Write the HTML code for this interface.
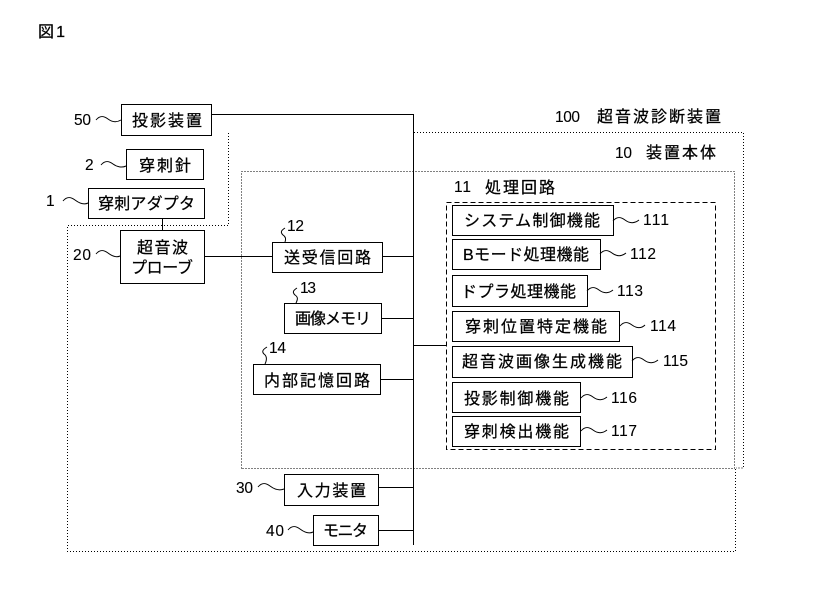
<!DOCTYPE html>
<html lang="ja">
<head>
<meta charset="utf-8">
<style>
html,body{margin:0;padding:0;background:#fff}
svg{display:block}
text{font-family:"Liberation Sans","Noto Sans CJK JP",sans-serif;fill:#000;font-size:16px;stroke:#000;stroke-width:.25px}
.n{font-size:15.5px;stroke-width:.1px}
.b{fill:#fff;stroke:#000;stroke-width:1;shape-rendering:crispEdges}
.l{stroke:#000;stroke-width:1;fill:none;shape-rendering:crispEdges}
.d{stroke:#000;stroke-width:1;fill:none;stroke-dasharray:1 2;shape-rendering:crispEdges}
.m{stroke:#000;stroke-width:1;fill:none;stroke-dasharray:5 3;shape-rendering:crispEdges}
.w{stroke:#000;stroke-width:1;fill:none}
</style>
</head>
<body>
<svg width="815" height="614" viewBox="0 0 815 614" xmlns="http://www.w3.org/2000/svg">
<rect width="815" height="614" fill="#fff"/>

<!-- dotted boundaries -->
<path class="d" d="M228.500 133V225.500H67.500V551.500H735.500V468M414 132.500H743.500V468H736"/>
<path class="d" d="M241.500 468.500V171.500H734.500V468.500H241.500"/>
<path class="m" d="M446.500 202.500H715.500V449.500H446.500Z"/>

<!-- connectors -->
<path class="l" d="M413.500 114V545M211 114.500H413M162.500 218V230M204 256.500H272M382 256.500H413M381 318.500H413M380 379.500H413M413 345.500H446M378 487.500H413M378 530.500H413"/>

<!-- boxes -->
<rect class="b" x="121.500" y="104.500" width="90" height="31"/>
<rect class="b" x="126.500" y="149.500" width="77" height="30"/>
<rect class="b" x="88.500" y="188.500" width="116" height="30"/>
<rect class="b" x="120.500" y="230.500" width="84" height="53"/>
<rect class="b" x="272.500" y="242.500" width="110" height="30"/>
<rect class="b" x="284.500" y="303.500" width="97" height="30"/>
<rect class="b" x="253.500" y="364.500" width="127" height="30"/>
<rect class="b" x="284.500" y="474.500" width="94" height="31"/>
<rect class="b" x="313.500" y="515.500" width="65" height="30"/>
<rect class="b" x="452.500" y="205.500" width="161" height="30"/>
<rect class="b" x="452.500" y="239.500" width="148" height="30"/>
<rect class="b" x="452.500" y="275.500" width="135" height="31"/>
<rect class="b" x="452.500" y="311.500" width="167" height="30"/>
<rect class="b" x="452.500" y="346.500" width="180" height="31"/>
<rect class="b" x="452.500" y="382.500" width="128" height="30"/>
<rect class="b" x="452.500" y="416.500" width="128" height="30"/>

<!-- wavy leaders -->
<path class="w" d="M96 120c4-5 8-4 12-1c4 3 8 4 13 1"/>
<path class="w" d="M101 165c4-5 8-4 12-1c4 3 9 4 13 2"/>
<path class="w" d="M63 201c4-5 8-4 12-1c4 3 9 5 13 3"/>
<path class="w" d="M96 254c4-5 8-4 12-1c4 3 8 5 12 3"/>
<path class="w" d="M258 487c4-5 8-4 12-1c4 3 9 5 14 3"/>
<path class="w" d="M288 530c4-5 8-4 12-1c4 3 9 5 13 3"/>
<path class="w" d="M613 221c4-5 8-4 12-1c4 3 9 4 14 0"/>
<path class="w" d="M600 254c4-5 8-4 12-1c4 3 9 4 14 0"/>
<path class="w" d="M587 291c4-5 8-4 12-1c4 3 9 4 14 0"/>
<path class="w" d="M620 326c4-5 8-4 12-1c4 3 9 4 13 0"/>
<path class="w" d="M632 361c4-5 8-4 12-1c4 3 9 4 14 0"/>
<path class="w" d="M581 398c4-5 8-4 12-1c4 3 9 4 14 0"/>
<path class="w" d="M581 431c4-5 8-4 12-1c4 3 9 4 14 0"/>
<path class="w" d="M285 228c-5 3-4 5-2 7c3 2 3 4 2 7"/>
<path class="w" d="M297 288c-5 3-4 5-2 7c3 2 3 4 1 8"/>
<path class="w" d="M267 347c-5 3-5 5-3 7c3 2 3 6 1 10"/>

<!-- box labels -->
<text x="132" y="126" textLength="70">投影装置</text>
<text x="139" y="171" textLength="52">穿刺針</text>
<text x="98" y="209" textLength="97">穿刺アダプタ</text>
<text x="137" y="253" textLength="51">超音波</text>
<text x="131" y="273" textLength="62">プローブ</text>
<text x="284" y="263" textLength="87">送受信回路</text>
<text x="295" y="324" textLength="76">画像メモリ</text>
<text x="264" y="386" textLength="106">内部記憶回路</text>
<text x="297" y="496" textLength="69">入力装置</text>
<text x="323" y="536" textLength="45">モニタ</text>
<text x="464" y="226" textLength="136">システム制御機能</text>
<text x="463" y="260" textLength="126">Bモード処理機能</text>
<text x="461" y="297" textLength="115">ドプラ処理機能</text>
<text x="465" y="332" textLength="142">穿刺位置特定機能</text>
<text x="462" y="367" textLength="160">超音波画像生成機能</text>
<text x="464" y="404" textLength="105">投影制御機能</text>
<text x="464" y="437" textLength="105">穿刺検出機能</text>

<!-- headings -->
<text x="38" y="37" textLength="27">図1</text>
<text class="n" x="555" y="122" textLength="25">100</text>
<text x="597" y="122" textLength="124">超音波診断装置</text>
<text class="n" x="615" y="158" textLength="17">10</text>
<text x="646" y="158" textLength="70">装置本体</text>
<text class="n" x="454" y="192" textLength="17">11</text>
<text x="485" y="193" textLength="70">処理回路</text>

<!-- reference numbers -->
<text class="n" x="74" y="125" textLength="17">50</text>
<text class="n" x="85" y="170">2</text>
<text class="n" x="46" y="206">1</text>
<text class="n" x="73" y="260" textLength="18">20</text>
<text class="n" x="287" y="231" textLength="17">12</text>
<text class="n" x="300" y="293" textLength="16">13</text>
<text class="n" x="269" y="353" textLength="17">14</text>
<text class="n" x="236" y="493" textLength="17">30</text>
<text class="n" x="266" y="536" textLength="18">40</text>
<text class="n" x="643" y="225" textLength="26">111</text>
<text class="n" x="630" y="259" textLength="26">112</text>
<text class="n" x="617" y="296" textLength="26">113</text>
<text class="n" x="650" y="331" textLength="26">114</text>
<text class="n" x="663" y="366" textLength="25">115</text>
<text class="n" x="611" y="403" textLength="26">116</text>
<text class="n" x="611" y="436" textLength="26">117</text>
</svg>
</body>
</html>
